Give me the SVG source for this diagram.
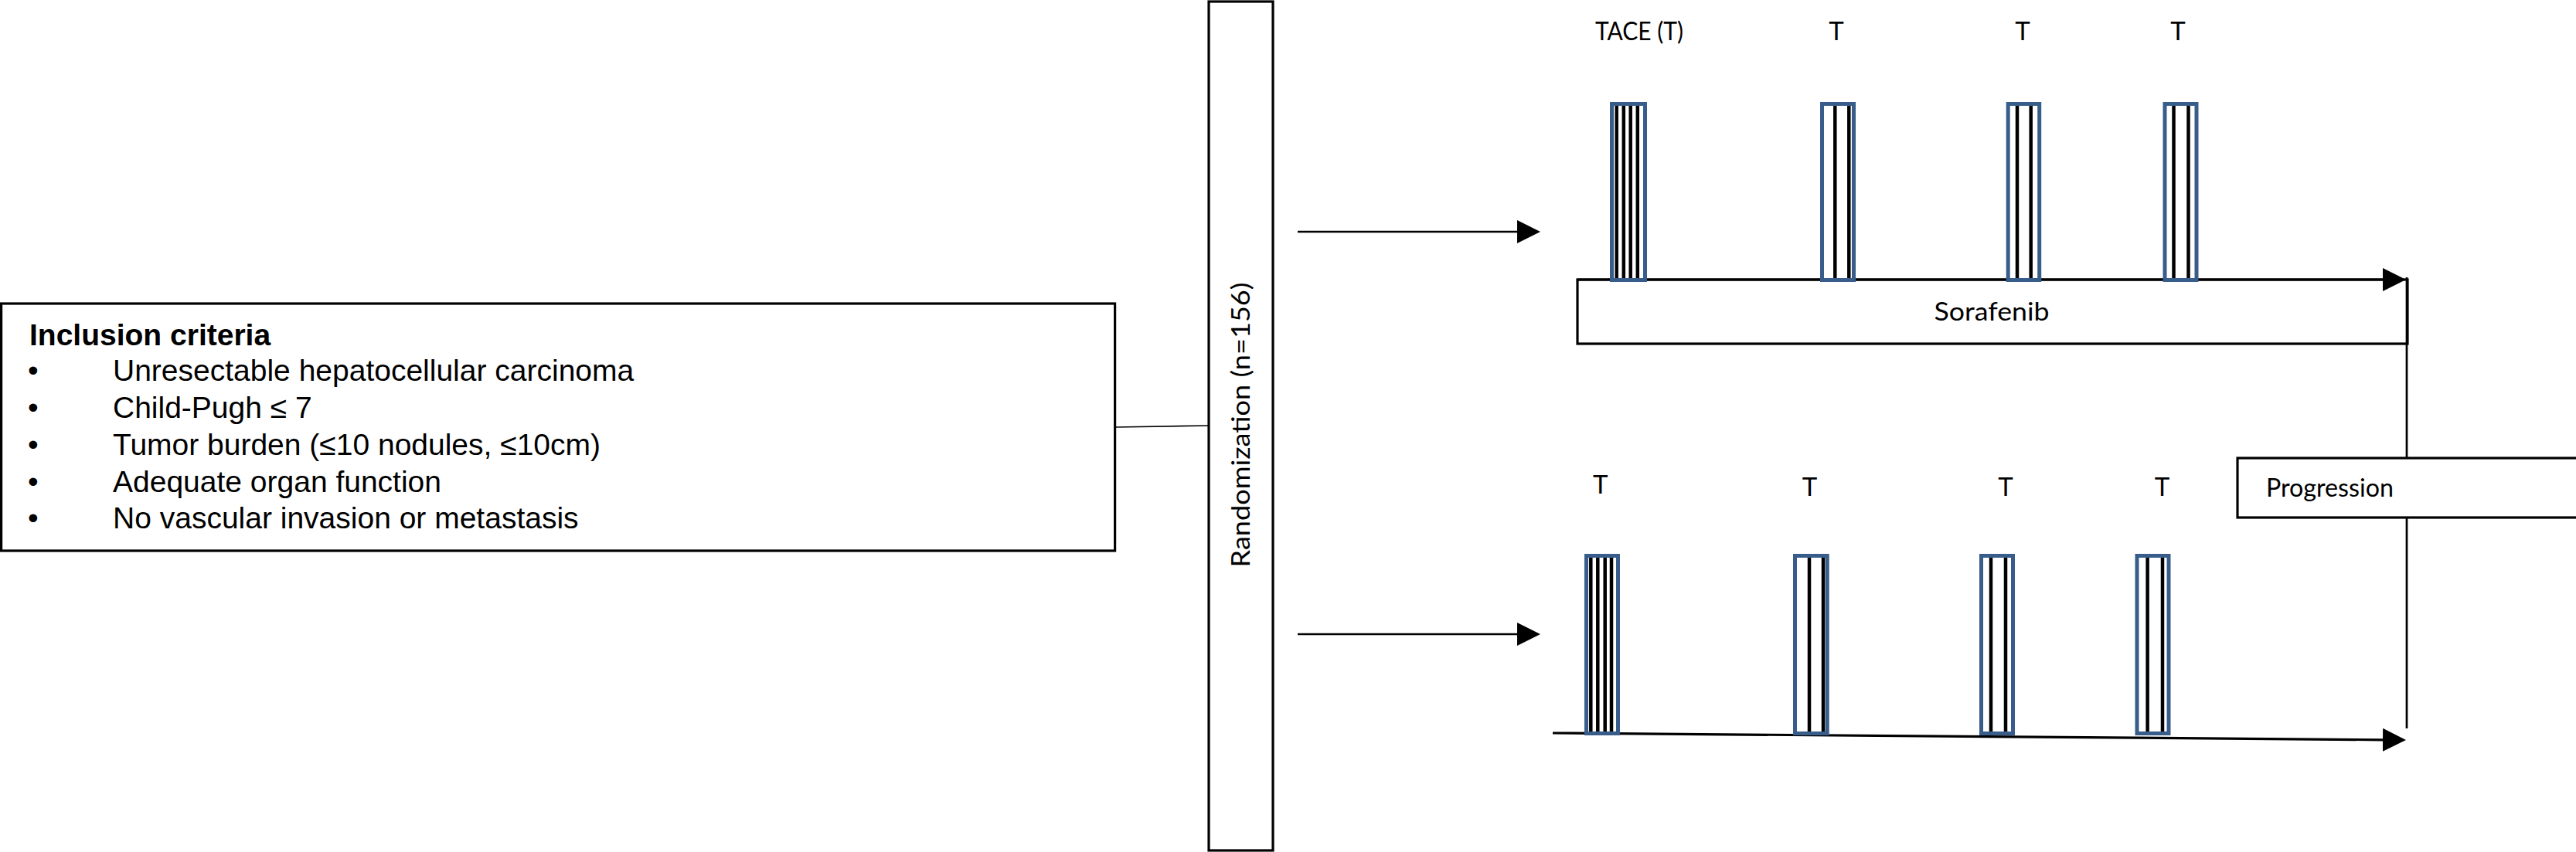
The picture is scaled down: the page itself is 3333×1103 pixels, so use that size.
<svg xmlns="http://www.w3.org/2000/svg" width="3333" height="1103" viewBox="0 0 3333 1103">
<style>
.box{fill:#fff;stroke:#000;stroke-width:3.2}
.open{fill:none;stroke:#000;stroke-width:3.2}
.ln{fill:none;stroke:#000;stroke-width:2.7}
.thin{fill:none;stroke:#000;stroke-width:1.6}
.bar{fill:#fff;stroke:#385D8A;stroke-width:5}
.stripe{stroke:#000;stroke-width:4.5}
.arial{font-family:"Liberation Sans",Arial,sans-serif;font-size:39px;fill:#000}
.cal{font-family:Lato,"Open Sans",sans-serif;font-size:33px;fill:#000}
</style>
<defs>
<marker id="ah" markerUnits="userSpaceOnUse" markerWidth="30" markerHeight="30" refX="0" refY="15" orient="auto">
<path d="M0,0 L30,15 L0,30 z" fill="#000"/>
</marker>
</defs>
<rect x="0" y="0" width="3333" height="1103" fill="#fff"/>

<g id="connectors">
<line class="thin" x1="1443" y1="553" x2="1563" y2="551"/>
<line class="ln" x1="1679" y1="300" x2="1963" y2="300" marker-end="url(#ah)"/>
<line class="ln" x1="1679" y1="821" x2="1963" y2="821" marker-end="url(#ah)"/>
<line class="open" x1="2041" y1="362" x2="3083" y2="362" marker-end="url(#ah)"/>
<line class="open" x1="2009" y1="949" x2="3083" y2="957.8" marker-end="url(#ah)"/>
<line class="ln" x1="3114" y1="359" x2="3114" y2="943"/>
</g>

<g id="inclusion">
<rect class="box" x="1.6" y="393" width="1441" height="320"/>
<text class="arial" x="38" y="447" font-weight="bold">Inclusion criteria</text>
<text class="arial" x="36" y="493">•</text>
<text class="arial" x="146" y="493">Unresectable hepatocellular carcinoma</text>
<text class="arial" x="36" y="541">•</text>
<text class="arial" x="146" y="541">Child-Pugh ≤ 7</text>
<text class="arial" x="36" y="589">•</text>
<text class="arial" x="146" y="589">Tumor burden (≤10 nodules, ≤10cm)</text>
<text class="arial" x="36" y="637">•</text>
<text class="arial" x="146" y="637">Adequate organ function</text>
<text class="arial" x="36" y="684">•</text>
<text class="arial" x="146" y="684">No vascular invasion or metastasis</text>
</g>

<g id="randomization">
<rect class="box" x="1564" y="2" width="83" height="1099"/>
<text class="cal" transform="translate(1617,550) rotate(-90)" x="0" y="0" text-anchor="middle" textLength="369" lengthAdjust="spacingAndGlyphs">Randomization (n=156)</text>
</g>

<g id="sorafenib">
<rect class="open" x="2041" y="362" width="1074" height="83"/>
<text class="cal" x="2577" y="415" text-anchor="middle" textLength="149" lengthAdjust="spacingAndGlyphs">Sorafenib</text>
</g>

<g id="progression">
<rect class="box" x="2895" y="593" width="440" height="77"/>
<text class="cal" x="2932" y="643" textLength="165" lengthAdjust="spacingAndGlyphs">Progression</text>
</g>

<g id="upper-tace-1">
<rect class="bar" x="2085.5" y="134.5" width="43" height="228"/>
<line class="stripe" x1="2091.7" y1="137" x2="2091.7" y2="360"/>
<line class="stripe" x1="2100.8" y1="137" x2="2100.8" y2="360"/>
<line class="stripe" x1="2109.7" y1="137" x2="2109.7" y2="360"/>
<line class="stripe" x1="2118.8" y1="137" x2="2118.8" y2="360"/>
<text class="cal" x="2121" y="52" text-anchor="middle" textLength="114" lengthAdjust="spacingAndGlyphs">TACE (T)</text>
</g>
<g id="upper-tace-2">
<rect class="bar" x="2357.5" y="134.5" width="41" height="228"/>
<line class="stripe" x1="2374.3" y1="137" x2="2374.3" y2="360"/>
<line class="stripe" x1="2392.3" y1="137" x2="2392.3" y2="360"/>
<text class="cal" x="2376" y="52" text-anchor="middle">T</text>
</g>
<g id="upper-tace-3">
<rect class="bar" x="2598.2" y="134.5" width="40.5" height="228"/>
<line class="stripe" x1="2610" y1="137" x2="2610" y2="360"/>
<line class="stripe" x1="2627.7" y1="137" x2="2627.7" y2="360"/>
<text class="cal" x="2617" y="52" text-anchor="middle">T</text>
</g>
<g id="upper-tace-4">
<rect class="bar" x="2801" y="134.5" width="41" height="228"/>
<line class="stripe" x1="2812.5" y1="137" x2="2812.5" y2="360"/>
<line class="stripe" x1="2831.5" y1="137" x2="2831.5" y2="360"/>
<text class="cal" x="2818" y="52" text-anchor="middle">T</text>
</g>

<g id="lower-tace-1">
<rect class="bar" x="2052.5" y="719.5" width="41" height="230"/>
<line class="stripe" x1="2058.3" y1="722" x2="2058.3" y2="947"/>
<line class="stripe" x1="2067.3" y1="722" x2="2067.3" y2="947"/>
<line class="stripe" x1="2076.7" y1="722" x2="2076.7" y2="947"/>
<line class="stripe" x1="2085" y1="722" x2="2085" y2="947"/>
<text class="cal" x="2070.7" y="639" text-anchor="middle">T</text>
</g>
<g id="lower-tace-2">
<rect class="bar" x="2322.5" y="719.5" width="41.7" height="230"/>
<line class="stripe" x1="2341" y1="722" x2="2341" y2="947"/>
<line class="stripe" x1="2359" y1="722" x2="2359" y2="947"/>
<text class="cal" x="2341.5" y="641.5" text-anchor="middle">T</text>
</g>
<g id="lower-tace-3">
<rect class="bar" x="2563.5" y="719.5" width="41" height="230"/>
<line class="stripe" x1="2576" y1="722" x2="2576" y2="947"/>
<line class="stripe" x1="2595" y1="722" x2="2595" y2="947"/>
<text class="cal" x="2595" y="641.5" text-anchor="middle">T</text>
</g>
<g id="lower-tace-4">
<rect class="bar" x="2765" y="719.5" width="41" height="230"/>
<line class="stripe" x1="2778.6" y1="722" x2="2778.6" y2="947"/>
<line class="stripe" x1="2798" y1="722" x2="2798" y2="947"/>
<text class="cal" x="2797.5" y="641.5" text-anchor="middle">T</text>
</g>
</svg>
